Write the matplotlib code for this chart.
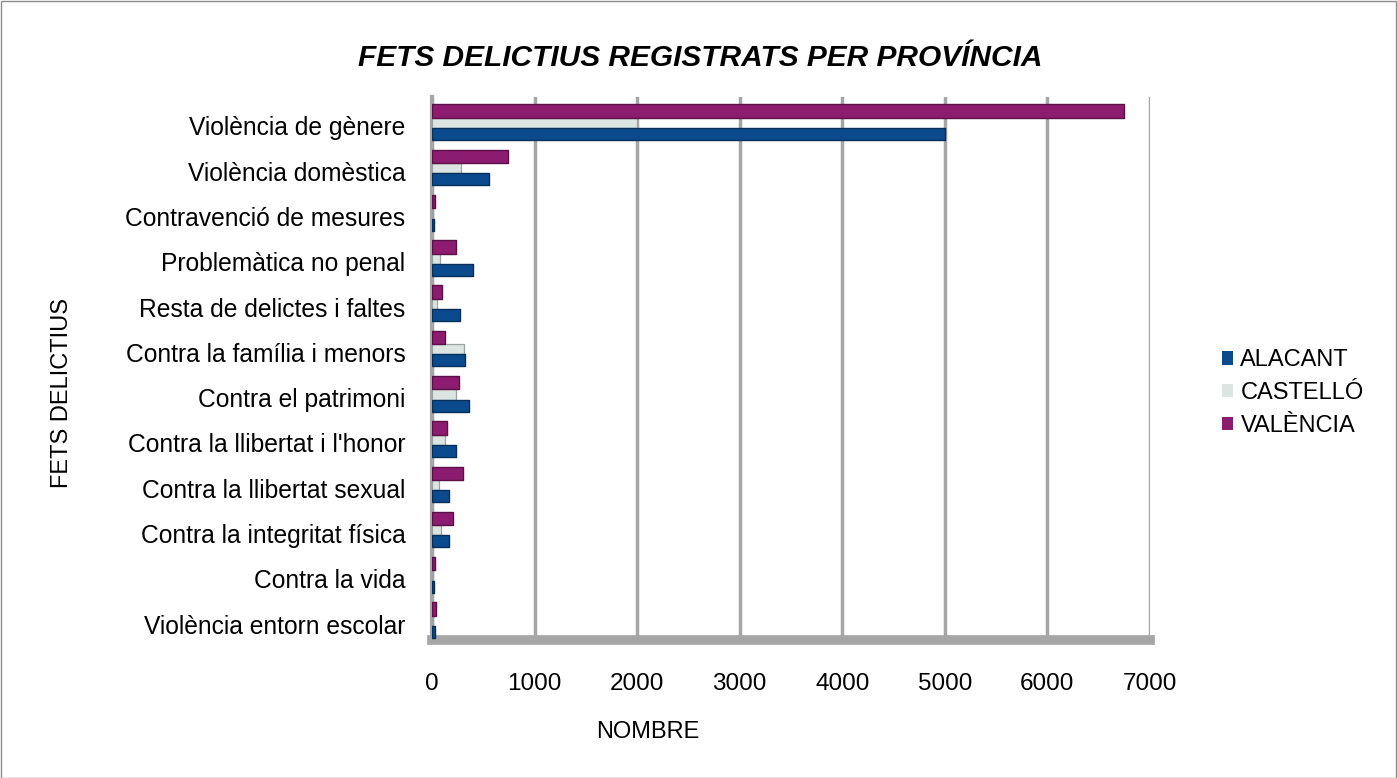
import matplotlib.pyplot as plt
import numpy as np
from matplotlib.patches import Rectangle, Patch

plt.rcParams['font.family'] = ['Liberation Sans', 'DejaVu Sans']

# categories, top to bottom
categories = ['Violència de gènere', 'Violència domèstica', 'Contravenció de mesures',
              'Problemàtica no penal', 'Resta de delictes i faltes',
              'Contra la família i menors', 'Contra el patrimoni',
              "Contra la llibertat i l'honor", 'Contra la llibertat sexual',
              'Contra la integritat física', 'Contra la vida', 'Violència entorn escolar']

alacant = [5000, 560, 20, 400, 270, 320, 360, 230, 170, 170, 20, 25]
castello = [2000, 280, 8, 80, 50, 310, 230, 130, 70, 90, 5, 10]
valencia = [6750, 740, 30, 230, 100, 130, 260, 150, 300, 200, 30, 40]

names = ['ALACANT', 'CASTELLÓ', 'VALÈNCIA']
colors = ['#0b4a8c', '#dde5e3', '#8b1c6f']
edges = ['#062f5c', '#9aa3a2', '#5c1049']

W, H = 1397, 778
fig = plt.figure(figsize=(W / 100, H / 100), dpi=100)
fig.patches.append(Rectangle((0.5 / W, 0.5 / H), 1 - 1.5 / W, 1 - 1.5 / H,
                             transform=fig.transFigure, fill=False,
                             edgecolor='#8c8c8c', linewidth=1))

left, right, top, bottom = 432, 1150, 97, 640
ax = fig.add_axes([left / W, 1 - bottom / H, (right - left) / W, (bottom - top) / H])

n = len(categories)
y = np.arange(n)[::-1]

ax.barh(y + 0.07, castello, height=0.228, color=colors[1], edgecolor=edges[1],
        linewidth=0.9, joinstyle='round', zorder=3)
ax.barh(y - 0.177, alacant, height=0.265, color=colors[0], edgecolor=edges[0],
        linewidth=1.0, joinstyle='round', zorder=4)
ax.barh(y + 0.331, valencia, height=0.296, color=colors[2], edgecolor=edges[2],
        linewidth=1.0, joinstyle='round', zorder=4)

ax.set_xlim(0, 7000)
ax.set_ylim(-0.353, 11.64)
ax.set_xticks(range(0, 7001, 1000))
ax.set_yticks(y)
ax.set_yticklabels(categories, fontsize=17.7)
ax.tick_params(axis='y', length=0, pad=19)
ax.tick_params(axis='x', length=0, pad=24, labelsize=17.5)
ax.grid(axis='x', color='#a6a6a6', linewidth=2.5, zorder=0)
for s in ['top', 'right']:
    ax.spines[s].set_visible(False)
ax.spines['left'].set_color('#a6a6a6')
ax.spines['left'].set_linewidth(3)
ax.spines['bottom'].set_color('#a6a6a6')
ax.spines['bottom'].set_linewidth(7)

fig.text(648 / W, 1 - 732 / H, 'NOMBRE', fontsize=17, ha='center', va='center')
fig.text(62 / W, 1 - 393 / H, 'FETS DELICTIUS', rotation=90, fontsize=17,
         ha='center', va='center')
fig.text(700 / W, 1 - 58 / H, 'FETS DELICTIUS REGISTRATS PER PROVÍNCIA',
         fontsize=21.5, fontweight='bold', fontstyle='italic', ha='center', va='center')

handles = [Patch(facecolor=c, edgecolor='none') for c in colors]
fig.legend(handles, names, loc='center left', bbox_to_anchor=(1222 / W, 1 - 393 / H),
           frameon=False, fontsize=17, handlelength=0.48, handleheight=0.48,
           handletextpad=0.3, labelspacing=0.45, borderpad=0, borderaxespad=0)

fig.savefig('out.png', dpi=100)
